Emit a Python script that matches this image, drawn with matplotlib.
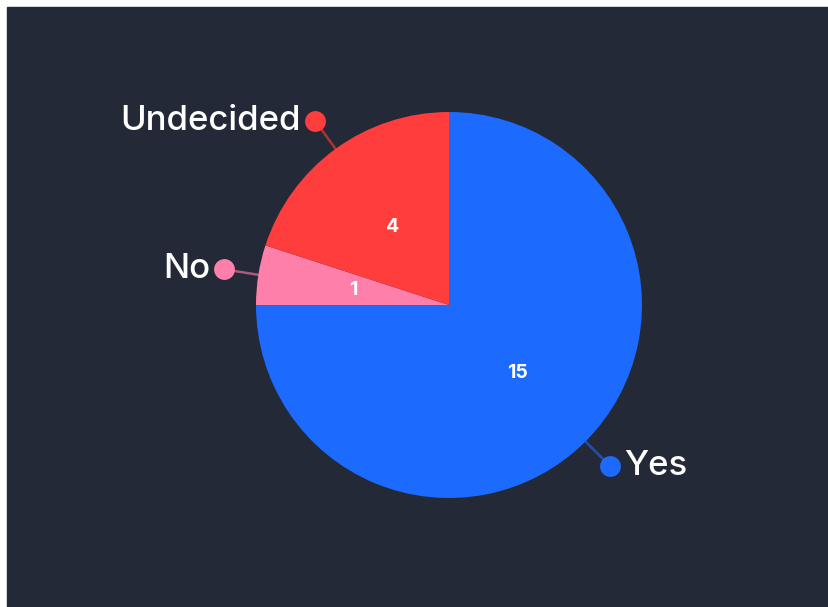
import numpy as np
import matplotlib.pyplot as plt
from matplotlib.patches import Rectangle

plt.rcParams['font.family'] = ['Inter', 'DejaVu Sans']

# data
labels = ['Yes', 'No', 'Undecided']
values = [15, 1, 4]
colors = ['#1d6aff', '#ff7fab', '#ff3d3d']

bg = '#232936'
W, H = 829, 607
cx, cy, r = 449, H - 305, 193

fig = plt.figure(figsize=(W / 100, H / 100), dpi=100, facecolor='white')
ax = fig.add_axes([0, 0, 1, 1])
ax.set_facecolor('white')
ax.add_patch(Rectangle((7, 0), W - 7, H - 7, color=bg, zorder=0))

wedges, texts = ax.pie(values, colors=colors, startangle=90, counterclock=False,
                       center=(cx, cy), radius=r, frame=True,
                       labels=[str(v) for v in values], labeldistance=0.5,
                       textprops=dict(color='white', fontsize=14, fontweight='bold',
                                      ha='center', va='center'))
for w in wedges:
    w.set_zorder(2)
for t in texts:
    t.set_zorder(3)

# outside labels with dot markers
for w, lab, col in zip(wedges, labels, colors):
    ang = np.deg2rad((w.theta1 + w.theta2) / 2)
    ex, ey = cx + r * np.cos(ang), cy + r * np.sin(ang)
    dx, dy = cx + 1.18 * r * np.cos(ang), cy + 1.18 * r * np.sin(ang)
    ax.plot([ex, dx], [ey, dy], color=col, alpha=0.6, lw=1.8, zorder=1,
            solid_capstyle='round')
    ax.plot(dx, dy, 'o', color=col, ms=15, mew=0, zorder=4)
    side = 1 if np.cos(ang) > 0 else -1
    ax.text(dx + side * 14, dy, lab, color='white', fontsize=25, fontweight='medium',
            ha='left' if side > 0 else 'right', va='center', zorder=4)

ax.set_xlim(0, W)
ax.set_ylim(0, H)
ax.set_aspect('auto')
ax.axis('off')

fig.savefig('out.png', dpi=100, facecolor='white')
